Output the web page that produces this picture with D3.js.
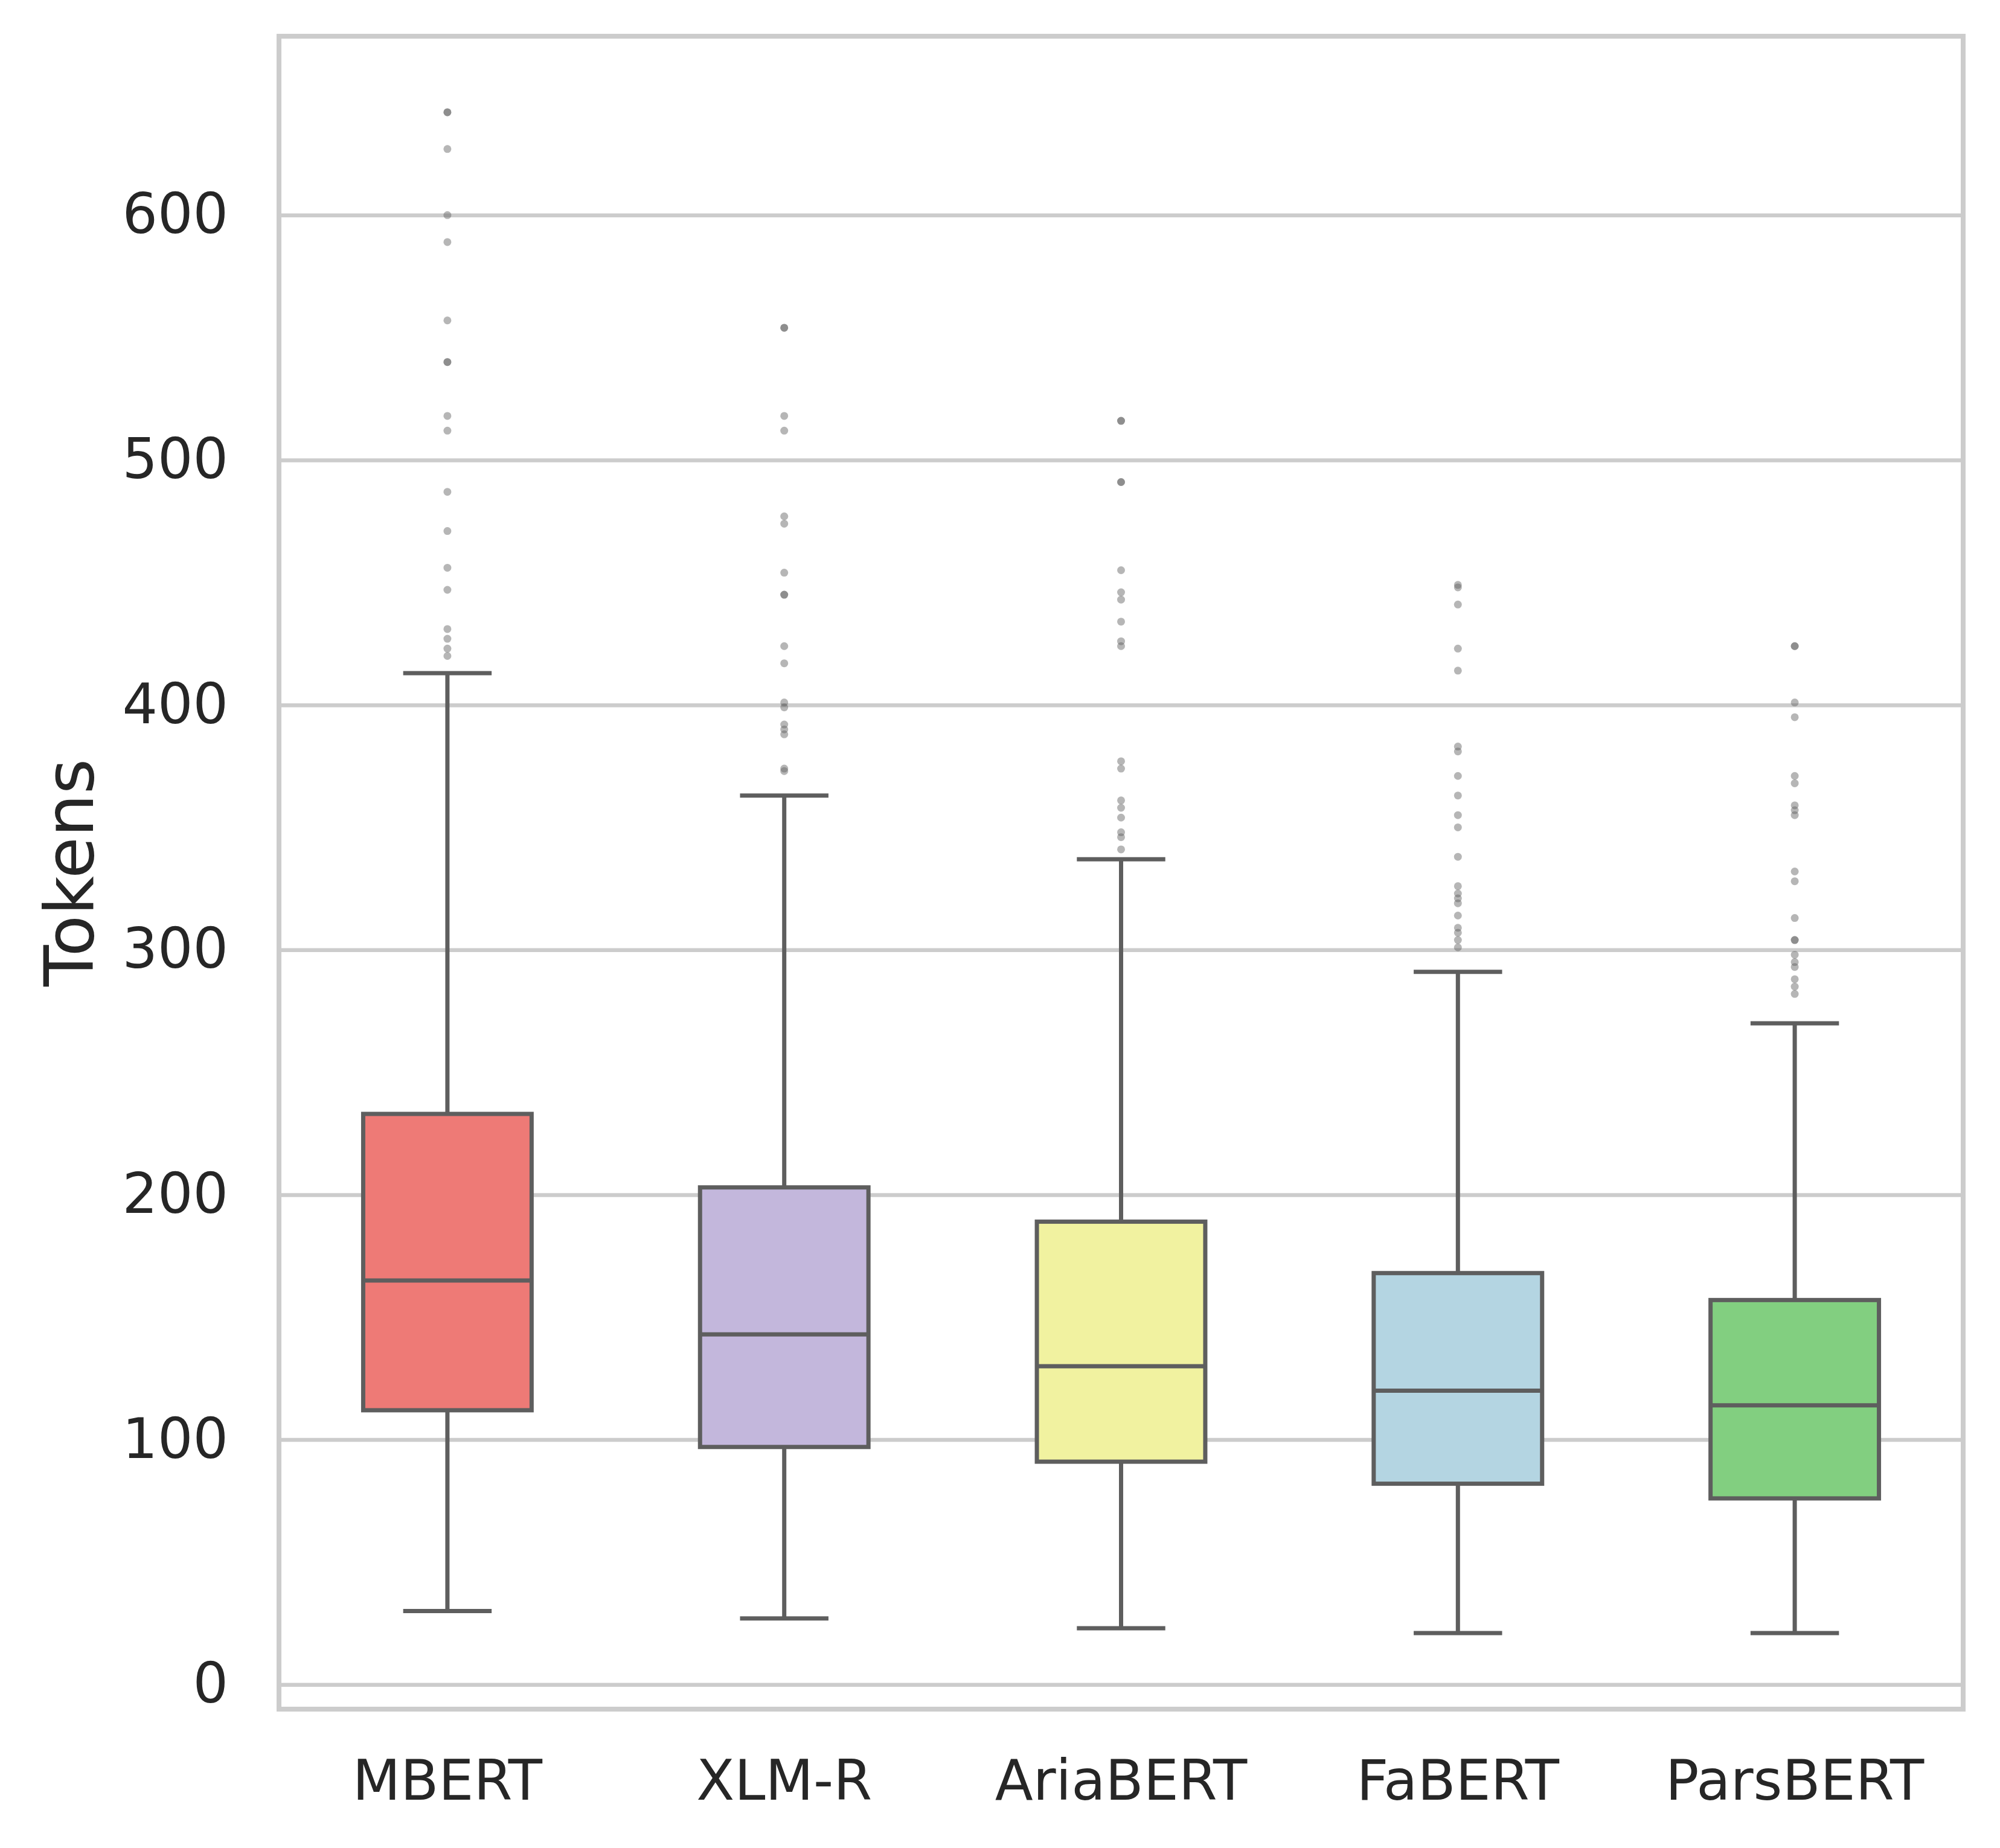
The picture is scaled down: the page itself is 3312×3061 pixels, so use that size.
<!DOCTYPE html>
<html>
<head>
<meta charset="utf-8">
<script src="https://cdn.jsdelivr.net/npm/d3@7"></script>
<style>
  body { margin: 0; background: #ffffff; }
  text { font-family: "DejaVu Sans", sans-serif; fill: #262626; }
</style>
</head>
<body>
<div id="chart"></div>
<script>
// box plot data
var models = ["MBERT", "XLM-R", "AriaBERT", "FaBERT", "ParsBERT"];
var boxColors = ["#ee7a76", "#c3b7dc", "#f1f2a0", "#b4d5e2", "#82cf80"];

var whiskerLow = [30, 27, 23, 21, 21];
var q1 = [112, 97, 91, 82, 76];
var median = [165, 143, 130, 120, 114];
var q3 = [233, 203, 189, 168, 157];
var whiskerHigh = [413, 363, 337, 291, 270];

var mbertOut = [642, 642, 627, 600, 589, 557, 540, 540, 518, 512, 487, 471, 456, 447, 431, 427, 423, 420];
var xlmrOut = [554, 554, 518, 512, 477, 474, 454, 445, 445, 424, 417, 401, 399, 392, 390, 388, 374, 373];
var ariaOut = [516, 516, 491, 491, 455, 446, 443, 434, 426, 424, 377, 374, 361, 358, 354, 348, 346, 341];
var fabertOut = [449, 448, 441, 423, 414, 383, 381, 371, 363, 355, 350, 338, 326, 323, 321, 319, 314, 309, 307, 304, 301];
var parsOut = [424, 424, 401, 395, 371, 368, 359, 357, 355, 332, 328, 313, 304, 304, 298, 295, 293, 288, 285, 282];

var yTicks = [0, 100, 200, 300, 400, 500, 600];

var svgWidth = 3312;
var svgHeight = 3061;

var margin = { top: 60, right: 61, bottom: 230, left: 462 };
var width = svgWidth - margin.left - margin.right;
var height = svgHeight - margin.top - margin.bottom;

var svg = d3.select("#chart")
  .append("svg")
  .attr("width", svgWidth)
  .attr("height", svgHeight);

var chartGroup = svg.append("g")
  .attr("transform", `translate(${margin.left}, ${margin.top})`);

// build rows for each box
var outliers = [mbertOut, xlmrOut, ariaOut, fabertOut, parsOut];
var boxData = models.map(function(m, i) {
  return {
    model: m,
    color: boxColors[i],
    low: whiskerLow[i],
    q1: q1[i],
    med: median[i],
    q3: q3[i],
    high: whiskerHigh[i],
    out: outliers[i]
  };
});

var flierData = [];
boxData.forEach(function(d) {
  d.out.forEach(function(v) {
    flierData.push({ model: d.model, value: v });
  });
});

// y domain with matplotlib-like 5% margins
var allValues = d3.merge([whiskerLow, whiskerHigh, d3.merge(outliers)]);
var yMin = d3.min(allValues);
var yMax = d3.max(allValues);
var pad = (yMax - yMin) * 0.05;

var xBandScale = d3.scaleBand()
  .domain(models)
  .range([0, width])
  .padding(0);

var yLinearScale = d3.scaleLinear()
  .domain([yMin - pad, yMax + pad])
  .range([height, 0]);

var boxWidth = xBandScale.bandwidth() * 0.5;
var lineColor = "#5e5e5e";
var lineWidth = 7;

// gridlines + y tick labels
var yAxis = d3.axisLeft(yLinearScale)
  .tickValues(yTicks)
  .tickSize(-width)
  .tickPadding(84);

var yAxisGroup = chartGroup.append("g").call(yAxis);
yAxisGroup.select(".domain").remove();
yAxisGroup.selectAll(".tick line")
  .attr("stroke", "#cccccc")
  .attr("stroke-width", 6.5);
yAxisGroup.selectAll(".tick text")
  .attr("font-size", "92px")
  .attr("fill", "#262626");

// x tick labels
var xAxis = d3.axisBottom(xBandScale)
  .tickSize(0)
  .tickPadding(85);

var xAxisGroup = chartGroup.append("g")
  .attr("transform", `translate(0, ${height})`)
  .call(xAxis);
xAxisGroup.select(".domain").remove();
xAxisGroup.selectAll(".tick text")
  .attr("font-size", "92px")
  .attr("fill", "#262626");

// frame
chartGroup.append("rect")
  .attr("x", 0)
  .attr("y", 0)
  .attr("width", width)
  .attr("height", height)
  .attr("fill", "none")
  .attr("stroke", "#cccccc")
  .attr("stroke-width", 8);

var boxes = chartGroup.selectAll(".box")
  .data(boxData)
  .enter()
  .append("g")
  .attr("class", "box")
  .attr("transform", d => `translate(${xBandScale(d.model) + xBandScale.bandwidth() / 2}, 0)`);

// whiskers
boxes.append("line")
  .attr("x1", 0).attr("x2", 0)
  .attr("y1", d => yLinearScale(d.q3))
  .attr("y2", d => yLinearScale(d.high))
  .attr("stroke", lineColor)
  .attr("stroke-width", lineWidth);

boxes.append("line")
  .attr("x1", 0).attr("x2", 0)
  .attr("y1", d => yLinearScale(d.q1))
  .attr("y2", d => yLinearScale(d.low))
  .attr("stroke", lineColor)
  .attr("stroke-width", lineWidth);

// caps
boxes.append("line")
  .attr("x1", -boxWidth / 4).attr("x2", boxWidth / 4)
  .attr("y1", d => yLinearScale(d.high))
  .attr("y2", d => yLinearScale(d.high))
  .attr("stroke", lineColor)
  .attr("stroke-width", lineWidth)
  .attr("stroke-linecap", "square");

boxes.append("line")
  .attr("x1", -boxWidth / 4).attr("x2", boxWidth / 4)
  .attr("y1", d => yLinearScale(d.low))
  .attr("y2", d => yLinearScale(d.low))
  .attr("stroke", lineColor)
  .attr("stroke-width", lineWidth)
  .attr("stroke-linecap", "square");

// boxes
boxes.append("rect")
  .attr("x", -boxWidth / 2)
  .attr("y", d => yLinearScale(d.q3))
  .attr("width", boxWidth)
  .attr("height", d => yLinearScale(d.q1) - yLinearScale(d.q3))
  .attr("fill", d => d.color)
  .attr("stroke", lineColor)
  .attr("stroke-width", lineWidth);

// medians
boxes.append("line")
  .attr("x1", -boxWidth / 2).attr("x2", boxWidth / 2)
  .attr("y1", d => yLinearScale(d.med))
  .attr("y2", d => yLinearScale(d.med))
  .attr("stroke", lineColor)
  .attr("stroke-width", lineWidth);

// fliers
chartGroup.selectAll(".flier")
  .data(flierData)
  .enter()
  .append("circle")
  .attr("class", "flier")
  .attr("cx", d => xBandScale(d.model) + xBandScale.bandwidth() / 2)
  .attr("cy", d => yLinearScale(d.value))
  .attr("r", 6.5)
  .attr("fill", lineColor)
  .attr("fill-opacity", 0.45);

// y axis label
chartGroup.append("text")
  .attr("transform", `translate(${154 - margin.left}, ${height / 2}) rotate(-90)`)
  .attr("text-anchor", "middle")
  .attr("font-size", "112px")
  .attr("fill", "#262626")
  .text("Tokens");
</script>
</body>
</html>
